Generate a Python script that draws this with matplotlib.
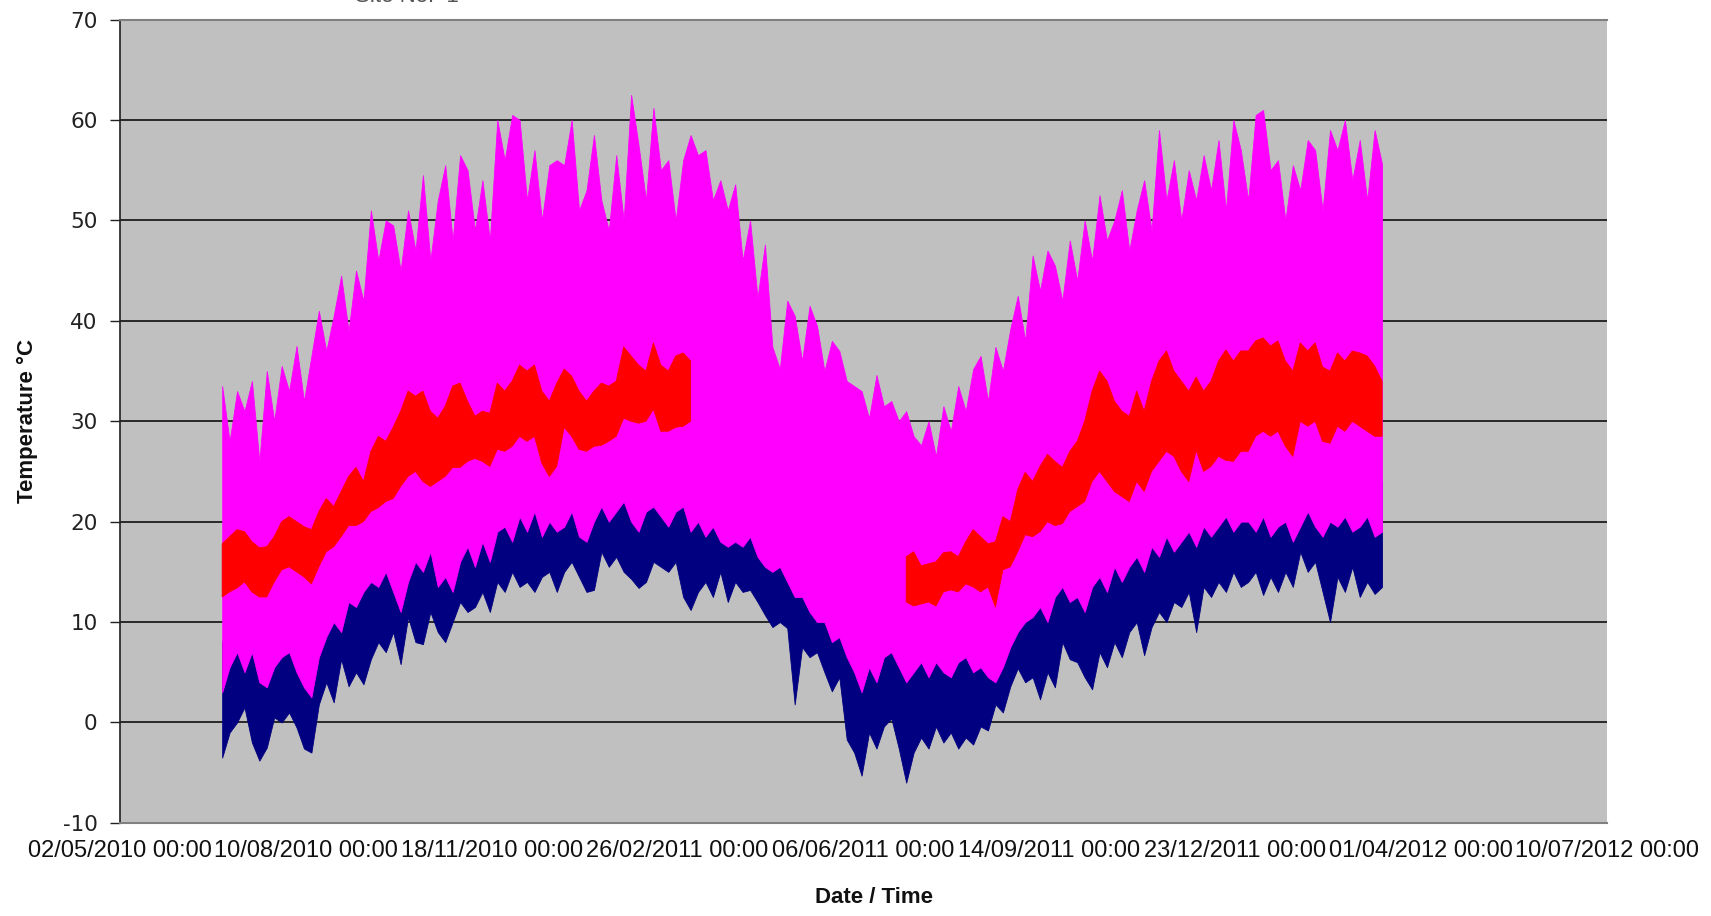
import numpy as np
import pandas as pd
import matplotlib
matplotlib.use("Agg")
import matplotlib.pyplot as plt
import matplotlib.dates as mdates

plt.rcParams['font.family'] = ['Liberation Sans', 'DejaVu Sans']
plt.rcParams['axes.unicode_minus'] = False

nan = np.nan

# logger readings, one sample every 4 days from 26/06/2010 (upper / lower envelope)
first_day = "2010-06-26"
x_start = "2010-05-02"
x_end = "2012-07-10"

mag_hi = [33.5, 28, 33, 31, 34, 26, 35, 30, 35.5, 33, 37.5, 32, 36.5, 41, 37, 40.5, 44.5, 39, 45, 42, 51, 46, 50,
          49.5, 45, 51, 47, 54.5, 46, 52, 55.5, 48, 56.5, 55, 49, 54, 48, 60, 56, 60.5, 60, 52, 57, 50, 55.5, 56,
          55.5, 60, 51, 53, 58.5, 52, 49, 56.5, 50, 62.5, 57.5, 52, 61.2, 55, 56, 50, 56, 58.5, 56.5, 57, 52, 54, 51,
          53.6, 46, 50, 42.3, 47.6, 37.4, 35.2, 42, 40.5, 36, 41.5, 39.5, 35, 38, 37, 34, 33.5, 33, 30.3, 34.6, 31.5, 32, 30,
          31, 28.5, 27.6, 30, 26.5, 31.5, 29, 33.5, 31, 35.2, 36.5, 32, 37.4, 35, 39.2, 42.5, 38, 46.5, 43, 47, 45.5, 42, 48,
          44, 50, 46, 52.5, 48, 50, 53, 47, 51, 54, 49, 59, 52, 56, 50, 55, 52, 56.5, 53, 58, 51, 60, 57,
          52, 60.5, 61, 55, 56, 50, 55.5, 53, 58, 57, 51, 59, 57, 60, 54, 58, 52, 59, 55.6]
mag_lo = [3, 5.5, 7, 5, 7, 4, 3.5, 5.5, 6.5, 7, 5, 3.5, 2.5, 6.5, 8.5, 10, 9, 12, 11.5, 13, 14, 13.5, 15,
          13, 11, 14, 16, 15, 17, 13.5, 14.5, 13, 16, 17.5, 15.5, 18, 16, 19, 19.5, 18, 20.5, 19, 21, 18.5, 20, 19,
          19.5, 21, 18.5, 18, 20, 21.5, 20, 21, 22, 20, 19, 21, 21.5, 20.5, 19.5, 21, 21.5, 19, 20, 18.5, 19.5, 18, 17.5,
          18, 17.5, 18.5, 16.5, 15.5, 15, 15.5, 14, 12.5, 12.5, 11, 10, 10, 8, 8.5, 6.5, 5, 3, 5.5, 4, 6.5, 7, 5.5,
          4, 5, 6, 4.5, 6, 5, 4.5, 6, 6.5, 5, 5.5, 4.5, 4, 5.5, 7.5, 9, 10, 10.5, 11.5, 10, 12.5, 13.5, 12,
          12.5, 11, 13.5, 14.5, 13, 15.5, 14, 15.5, 16.5, 15, 17.5, 16.5, 18.5, 17, 18, 19, 17.5, 19.5, 18.5, 19.5, 20.5, 19, 20,
          20, 19, 20.5, 18.5, 19.5, 20, 18, 19.5, 21, 19.5, 18.5, 20, 19.5, 20.5, 19, 19.5, 20.5, 18.5, 19]

navy_hi = [8, 10, 11, 9, 11, 8, 8, 10, 11, 11, 9, 8, 7, 11, 13, 14, 14, 16, 16, 17, 18, 18, 19,
           18, 17, 19, 20, 19, 21, 18, 19, 18, 20, 21, 20, 22, 20, 23, 23, 22, 24, 23, 25, 23, 24, 23,
           24, 25, 23, 23, 24, 26, 25, 25, 26, 25, 24, 25, 26, 25, 24, 25, 26, 24, 24, 23, 24, 23, 22,
           23, 22, 23, 21, 20, 20, 20, 19, 17, 17, 16, 15, 15, 13, 13, 12, 10, 8, 10, 9, 11, 12, 11,
           10, 11, 11, 11, 12, 12, 11, 12, 12, 12, 12, 11, 11, 12, 14, 15, 16, 17, 17, 16, 18, 19, 18,
           18, 17, 19, 20, 19, 21, 20, 21, 22, 21, 23, 22, 23, 22, 23, 24, 23, 24, 24, 24, 25, 24, 25,
           25, 25, 24, 25, 24, 25, 24, 26, 25, 26, 24, 23, 25, 24, 25, 24, 25, 24, 24]
navy_lo = [-3.5, -1, 0, 1.5, -2, -3.8, -2.5, 0.5, 0, 1, -0.5, -2.6, -3, 1.8, 4, 2, 6.3, 3.6, 5, 3.8, 6.3, 8, 7,
           9, 5.8, 10.5, 8, 7.8, 11, 9, 8, 10, 12, 11, 11.5, 13, 11, 14, 13, 15, 13.5, 14, 13, 14.5, 15, 13,
           15, 16, 14.5, 13, 13.2, 17, 15.5, 16.5, 15, 14.3, 13.4, 14, 16, 15.5, 15, 16, 12.5, 11.2, 13, 14, 12.5, 15, 12,
           14, 13, 13.2, 12, 10.7, 9.5, 10, 9.4, 1.8, 7.5, 6.5, 7, 5, 3.1, 4.5, -1.7, -3, -5.3, -1, -2.6, -0.4, 0.4, -2.6,
           -6, -3, -1.5, -2.6, -0.4, -2, -1, -2.6, -1.5, -2.2, -0.4, -0.8, 1.8, 1, 3.6, 5.4, 4, 4.5, 2.3, 5, 3.5, 8, 6.3,
           6, 4.5, 3.3, 7, 5.5, 8, 6.5, 9, 10, 6.7, 9.5, 11, 10, 12, 11.5, 13, 9, 13.5, 12.5, 14, 13, 15, 13.5,
           14, 15, 12.7, 14.5, 13, 15, 13.5, 17, 15, 16, 13, 10, 14.5, 13, 15.5, 12.5, 14, 12.8, 13.5]

red_hi = [17.8, 18.5, 19.2, 19, 18, 17.4, 17.5, 18.5, 20, 20.5, 20, 19.5, 19.2, 21, 22.3, 21.5, 23, 24.5, 25.4, 24, 27, 28.5, 28,
          29.4, 31, 33, 32.5, 33, 31, 30.3, 31.5, 33.5, 33.8, 32, 30.5, 31, 30.8, 33.8, 33, 34, 35.6, 35, 35.6, 33, 32, 33.8,
          35.2, 34.5, 33, 32, 33, 33.8, 33.5, 34, 37.4, 36.5, 35.6, 35, 37.8, 35.6, 35, 36.5, 36.8, 36, nan, nan, nan, nan, nan,
          nan, nan, nan, nan, nan, nan, nan, nan, nan, nan, nan, nan, nan, nan, nan, nan, nan, nan, nan, nan, nan, nan, nan,
          16.5, 17, 15.6, 15.8, 16, 16.9, 17, 16.5, 18, 19.2, 18.5, 17.8, 18, 20.5, 20, 23.2, 24.9, 24, 25.5, 26.7, 26, 25.4, 27,
          28, 30, 33, 35, 34, 32, 31, 30.5, 33, 31, 34, 36, 37, 35, 34, 33, 34.4, 33, 34, 36, 37.1, 36, 37,
          37, 38, 38.3, 37.5, 38, 36, 35, 37.8, 37, 37.8, 35.4, 35, 36.8, 36, 37, 36.8, 36.5, 35.5, 34]
red_lo = [12.5, 13, 13.4, 14, 13, 12.5, 12.5, 14, 15.2, 15.5, 15, 14.5, 13.8, 15.5, 17, 17.5, 18.5, 19.6, 19.6, 20, 21, 21.4, 22,
          22.3, 23.5, 24.5, 25, 24, 23.5, 24, 24.5, 25.4, 25.4, 26, 26.3, 26, 25.5, 27.2, 27, 27.5, 28.5, 28, 28.5, 25.8, 24.5, 25.5,
          29.4, 28.5, 27.2, 27, 27.5, 27.6, 28, 28.5, 30.3, 30, 29.8, 30, 31.2, 29, 29, 29.4, 29.5, 30, nan, nan, nan, nan, nan,
          nan, nan, nan, nan, nan, nan, nan, nan, nan, nan, nan, nan, nan, nan, nan, nan, nan, nan, nan, nan, nan, nan, nan,
          12, 11.6, 11.8, 12, 11.6, 13, 13.2, 13, 13.8, 13.5, 13, 13.5, 11.5, 15.2, 15.5, 17, 18.7, 18.5, 19, 20, 19.6, 19.8, 21,
          21.5, 22, 24, 25, 24, 23, 22.5, 22, 24, 23, 25, 26, 27, 26.5, 25, 24, 27.1, 25, 25.5, 26.5, 26.1, 26, 27,
          27, 28.5, 29, 28.5, 29, 27.5, 26.5, 30, 29.5, 30, 28, 27.8, 29.5, 29, 30, 29.5, 29, 28.5, 28.5]

t = pd.date_range(first_day, periods=len(mag_hi), freq="4D")
red_hi = np.array(red_hi)
red_lo = np.array(red_lo)
has_red = ~np.isnan(red_hi)

fig = plt.figure(figsize=(17.11, 9.16), dpi=100)
ax = fig.add_axes([0.0701, 0.1017, 0.8691, 0.8769])
ax.set_facecolor("#C0C0C0")

ax.fill_between(t, navy_lo, navy_hi, color="#000080", lw=0.6, zorder=2)
ax.fill_between(t, mag_lo, mag_hi, color="#FF00FF", lw=0.6, zorder=3)
ax.fill_between(t, red_lo, red_hi, where=has_red, color="#FF0000", lw=0.6, zorder=4)

xticks = pd.date_range(x_start, x_end, freq="100D")
ax.set_xlim(pd.Timestamp(x_start), pd.Timestamp(x_end))
ax.set_ylim(-10, 70)
ax.set_yticks(range(-10, 71, 10))
ax.set_xticks(xticks)
ax.set_xticks(xticks[1:-1], minor=True)
ax.xaxis.set_major_formatter(mdates.DateFormatter("%d/%m/%Y %H:%M"))

ax.set_axisbelow(True)
ax.grid(axis="y", which="major", color="black", lw=1.1)
ax.grid(axis="x", which="minor", color="black", lw=1.1)

ax.tick_params(axis="x", which="both", length=0, labelsize=17, pad=12, colors="#111111")
ax.tick_params(axis="y", length=7, width=1, pad=9, colors="#222222")
for lab in ax.get_yticklabels():
    lab.set_fontfamily("DejaVu Sans")
    lab.set_fontsize(15.5)

ax.spines["right"].set_visible(False)
ax.spines["top"].set_color("#808080")
ax.spines["top"].set_linewidth(1.5)
ax.spines["bottom"].set_color("#808080")
ax.spines["bottom"].set_linewidth(1.5)
ax.spines["left"].set_color("#202020")
ax.spines["left"].set_linewidth(1.2)

fig.text(0.0158, 0.54, "Temperature °C", rotation=90, ha="center", va="center",
         fontsize=16, fontweight="bold", color="#111111")
fig.text(0.511, 0.0207, "Date / Time", ha="center", va="center",
         fontsize=16, fontweight="bold", color="#111111")
# title sits mostly above the visible area in the original
fig.text(0.238, 1 - 2.5 / 916, "Site No:  1", ha="center", va="baseline",
         fontsize=16, color="#555555")

fig.savefig("out.png", dpi=100)
